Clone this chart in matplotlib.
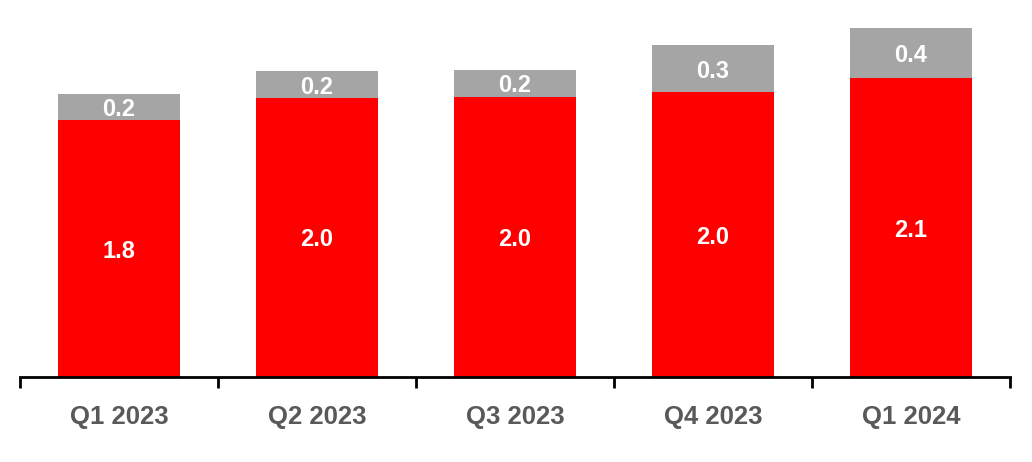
import matplotlib
matplotlib.use("Agg")
import matplotlib.pyplot as plt

categories = ["Q1 2023", "Q2 2023", "Q3 2023", "Q4 2023", "Q1 2024"]
red_values = [1.84, 2.00, 2.01, 2.04, 2.14]
gray_values = [0.19, 0.19, 0.19, 0.34, 0.36]

plt.rcParams['font.family'] = ['Liberation Sans', 'DejaVu Sans']

W, H = 1032, 462
fig = plt.figure(figsize=(W / 100, H / 100), dpi=100)
left, right = 20 / W, 1010 / W
bottom, top = 1 - 377 / H, 1 - 10 / H
ax = fig.add_axes([left, bottom, right - left, top - bottom])

x = list(range(len(categories)))
bw = 0.62
ax.bar(x, red_values, width=bw, color="#FF0000", zorder=2)
ax.bar(x, gray_values, width=bw, bottom=red_values, color="#A5A5A5", zorder=2)

for i in x:
    ax.text(i, red_values[i] / 2, f"{red_values[i]:.1f}", ha="center", va="center_baseline",
            color="white", fontsize=17, fontweight="bold")
    ax.text(i, red_values[i] + gray_values[i] / 2, f"{gray_values[i]:.1f}", ha="center",
            va="center_baseline", color="white", fontsize=17, fontweight="bold")

ax.set_xlim(-0.5, len(categories) - 0.5)
ax.set_ylim(0, 367 / 139.5)

for s in ["top", "right", "left"]:
    ax.spines[s].set_visible(False)
ax.spines["bottom"].set_linewidth(2)
ax.spines["bottom"].set_color("black")
ax.set_yticks([])

ax.set_xticks([i - 0.5 for i in range(len(categories) + 1)])
ax.set_xticklabels([])
ax.tick_params(axis="x", direction="out", length=8, width=2, color="black")
ax.set_xticks(x, minor=True)
ax.set_xticklabels(categories, minor=True, fontsize=18.5, fontweight="bold", color="#595959")
ax.tick_params(axis="x", which="minor", length=0, pad=20)

fig.savefig("out.png", dpi=100)
